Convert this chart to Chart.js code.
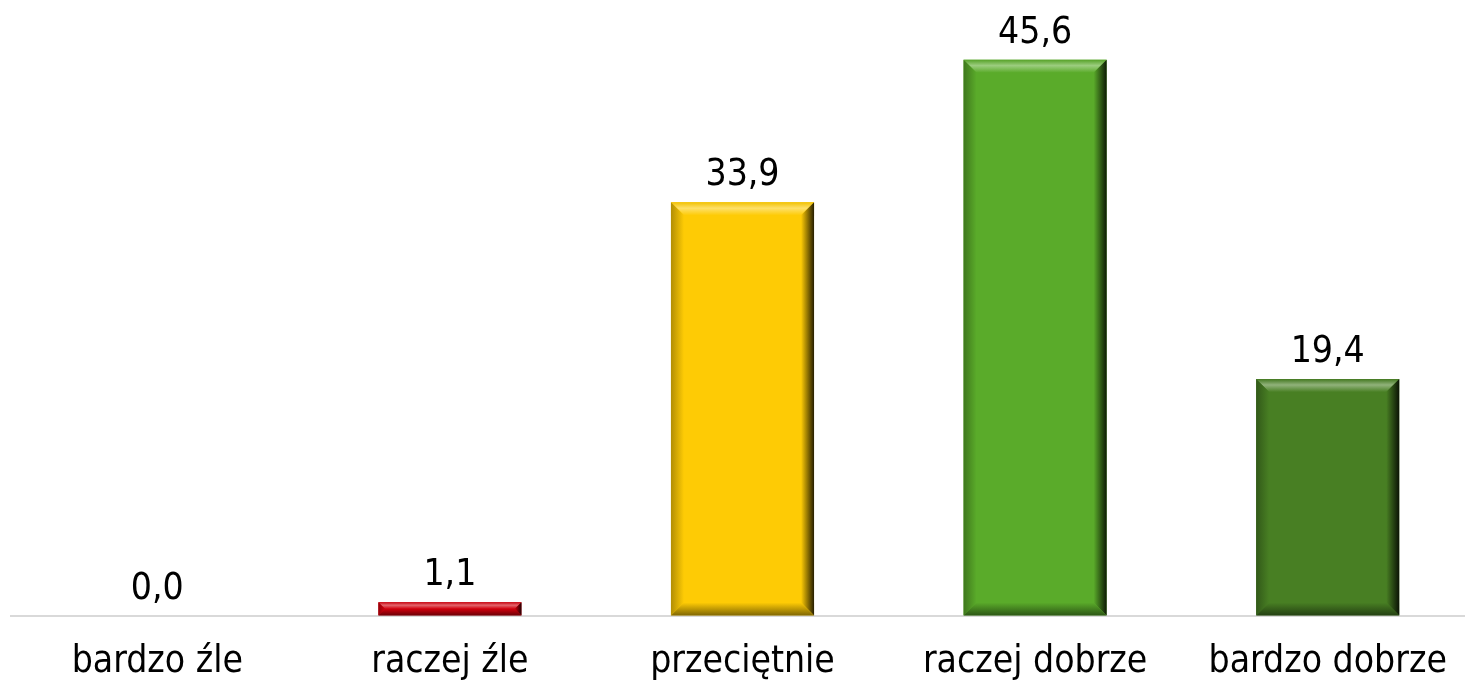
<!DOCTYPE html>
<html>
<head>
<meta charset="utf-8">
<script src="https://cdn.jsdelivr.net/npm/chart.js@4"></script>
<style>
  html, body { margin: 0; padding: 0; background: #fff; overflow: hidden; }
  #wrap { position: absolute; left: 0; top: 0; width: 1476px; height: 716px; }
</style>
</head>
<body>
<div id="wrap"><canvas id="chart"></canvas></div>
<script>
const categories = ["bardzo źle", "raczej źle", "przeciętnie", "raczej dobrze", "bardzo dobrze"];
const values = [0.0, 1.1, 33.9, 45.6, 19.4];
const barColors = ["#d0000c", "#d0000c", "#fecb05", "#5aab2a", "#487f23"];

const FONT = "'DejaVu Sans Condensed', 'DejaVu Sans', sans-serif";

function shade(hex, f) {
    // f < 0 darken, f > 0 lighten
    const n = parseInt(hex.slice(1), 16);
    let r = (n >> 16) & 255, g = (n >> 8) & 255, b = n & 255;
    const mix = (c) => f < 0 ? Math.round(c * (1 + f)) : Math.round(c + (255 - c) * f);
    return `rgb(${mix(r)},${mix(g)},${mix(b)})`;
}

// bevel look of the bars
const bevelPlugin = {
    id: 'bevel',
    afterDatasetsDraw(chart) {
        const ctx = chart.ctx;
        const meta = chart.getDatasetMeta(0);
        meta.data.forEach((bar, i) => {
            const h = bar.base - bar.y;
            if (h <= 0) return;
            const x0 = bar.x - bar.width / 2, x1 = bar.x + bar.width / 2;
            const y0 = bar.y, y1 = bar.base;
            const b = Math.min(13, h / 2);
            const c = barColors[i];
            ctx.save();
            let g;
            // top
            g = ctx.createLinearGradient(0, y0, 0, y0 + b);
            g.addColorStop(0, shade(c, -0.05));
            g.addColorStop(0.45, shade(c, 0.4));
            g.addColorStop(1, c);
            ctx.fillStyle = g;
            ctx.beginPath();
            ctx.moveTo(x0, y0); ctx.lineTo(x1, y0); ctx.lineTo(x1 - b, y0 + b); ctx.lineTo(x0 + b, y0 + b);
            ctx.closePath(); ctx.fill();
            // left
            g = ctx.createLinearGradient(x0, 0, x0 + b, 0);
            g.addColorStop(0, shade(c, -0.3));
            g.addColorStop(1, c);
            ctx.fillStyle = g;
            ctx.beginPath();
            ctx.moveTo(x0, y0); ctx.lineTo(x0 + b, y0 + b); ctx.lineTo(x0 + b, y1 - b); ctx.lineTo(x0, y1);
            ctx.closePath(); ctx.fill();
            // right
            g = ctx.createLinearGradient(x1 - b, 0, x1, 0);
            g.addColorStop(0, c);
            g.addColorStop(1, shade(c, -0.85));
            ctx.fillStyle = g;
            ctx.beginPath();
            ctx.moveTo(x1, y0); ctx.lineTo(x1, y1); ctx.lineTo(x1 - b, y1 - b); ctx.lineTo(x1 - b, y0 + b);
            ctx.closePath(); ctx.fill();
            // bottom
            g = ctx.createLinearGradient(0, y1 - b, 0, y1);
            g.addColorStop(0, c);
            g.addColorStop(1, shade(c, -0.5));
            ctx.fillStyle = g;
            ctx.beginPath();
            ctx.moveTo(x0, y1); ctx.lineTo(x1, y1); ctx.lineTo(x1 - b, y1 - b); ctx.lineTo(x0 + b, y1 - b);
            ctx.closePath(); ctx.fill();
            ctx.restore();
        });
    }
};

// value labels above bars
const valueLabels = {
    id: 'valueLabels',
    afterDatasetsDraw(chart) {
        const ctx = chart.ctx;
        const meta = chart.getDatasetMeta(0);
        ctx.save();
        ctx.font = `37px ${FONT}`;
        ctx.fillStyle = '#000';
        ctx.textAlign = 'center';
        ctx.textBaseline = 'alphabetic';
        meta.data.forEach((bar, i) => {
            ctx.fillText(values[i].toFixed(1).replace('.', ','), bar.x, bar.y - 17);
        });
        ctx.restore();
    }
};

new Chart(document.getElementById('chart'), {
    type: 'bar',
    data: {
        labels: categories,
        datasets: [{
            data: values,
            backgroundColor: barColors,
            borderWidth: 0,
            categoryPercentage: 1,
            barPercentage: 0.489
        }]
    },
    options: {
        responsive: true,
        maintainAspectRatio: false,
        animation: false,
        layout: { padding: { left: 11, right: 2, top: 0, bottom: 6 } },
        plugins: {
            legend: { display: false },
            tooltip: { enabled: false }
        },
        scales: {
            x: {
                grid: { display: false, drawTicks: false },
                border: { color: '#d9d9d9', width: 2 },
                ticks: {
                    color: '#000',
                    font: { family: FONT, size: 37 },
                    padding: 25,
                    maxRotation: 0
                }
            },
            y: {
                display: false,
                min: 0,
                max: 50.5
            }
        }
    },
    plugins: [bevelPlugin, valueLabels]
});
</script>
</body>
</html>
